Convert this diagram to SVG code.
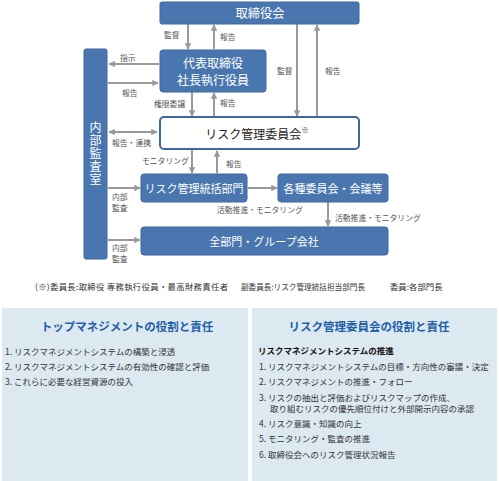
<svg xmlns="http://www.w3.org/2000/svg" width="499" height="481" viewBox="0 0 499 481">
<style>
.box{fill:#4a76b0;stroke:#3d67a0;stroke-width:1}
.wbox{fill:#fff;stroke:#3d67a0;stroke-width:2}
.bt{font-family:"Noto Sans CJK JP","Noto Sans",sans-serif;fill:#fff;font-size:12.3px;text-anchor:middle;dominant-baseline:central}
.sm{font-size:11px}
.lbl{font-family:"Noto Sans CJK JP","Noto Sans",sans-serif;fill:#555;font-size:7.8px;dominant-baseline:central}
.ln{stroke:#999;stroke-width:2;fill:none}
.ttl{font-family:"Noto Sans CJK JP","Noto Sans",sans-serif;fill:#1f5fa8;font-size:11.5px;font-weight:bold;text-anchor:middle;dominant-baseline:central}
.it{font-family:"Noto Sans CJK JP","Noto Sans",sans-serif;fill:#333;font-size:8.5px;dominant-baseline:central}
.fn{font-family:"Noto Sans CJK JP","Noto Sans",sans-serif;font-size:8.4px;fill:#333;dominant-baseline:central}
</style>
<defs>
<marker id="ah" viewBox="0 0 10 10" refX="9" refY="5" markerWidth="3.2" markerHeight="3.2" orient="auto-start-reverse" markerUnits="strokeWidth">
<path d="M0,0 L10,5 L0,10 z" fill="#999"/>
</marker>
</defs>
<g id="connectors">
<line class="ln" x1="188" y1="24" x2="188" y2="49" marker-end="url(#ah)"/>
<line class="ln" x1="214" y1="49" x2="214" y2="25" marker-end="url(#ah)"/>
<line class="ln" x1="297" y1="24" x2="297" y2="116" marker-end="url(#ah)"/>
<line class="ln" x1="317" y1="116" x2="317" y2="25" marker-end="url(#ah)"/>
<line class="ln" x1="159" y1="64" x2="109" y2="64" marker-end="url(#ah)"/>
<line class="ln" x1="108" y1="83" x2="158" y2="83" marker-end="url(#ah)"/>
<line class="ln" x1="192" y1="92" x2="192" y2="116" marker-end="url(#ah)"/>
<line class="ln" x1="214" y1="116" x2="214" y2="93" marker-end="url(#ah)"/>
<line class="ln" x1="109" y1="132" x2="157" y2="132" marker-start="url(#ah)" marker-end="url(#ah)"/>
<line class="ln" x1="192" y1="150" x2="192" y2="173" marker-end="url(#ah)"/>
<line class="ln" x1="217" y1="173" x2="217" y2="151" marker-end="url(#ah)"/>
<line class="ln" x1="108" y1="188" x2="140" y2="188" marker-end="url(#ah)"/>
<line class="ln" x1="248" y1="188" x2="277" y2="188" marker-end="url(#ah)"/>
<line class="ln" x1="328" y1="202" x2="328" y2="226" marker-end="url(#ah)"/>
<line class="ln" x1="108" y1="240" x2="140" y2="240" marker-end="url(#ah)"/>
<text class="lbl" x="164" y="34">監督</text>
<text class="lbl" x="220" y="36">報告</text>
<text class="lbl" x="277" y="70">監督</text>
<text class="lbl" x="325" y="70">報告</text>
<text class="lbl" x="120" y="57">指示</text>
<text class="lbl" x="122" y="92">報告</text>
<text class="lbl" x="154" y="103">権限委譲</text>
<text class="lbl" x="220" y="102">報告</text>
<text class="lbl" x="112" y="142">報告・連携</text>
<text class="lbl" x="142" y="160">モニタリング</text>
<text class="lbl" x="226" y="163">報告</text>
<text class="lbl" x="112" y="196">内部</text>
<text class="lbl" x="112" y="207">監査</text>
<text class="lbl" x="112" y="247">内部</text>
<text class="lbl" x="112" y="258">監査</text>
<text class="lbl" x="217" y="209">活動推進・モニタリング</text>
<text class="lbl" x="335" y="217">活動推進・モニタリング</text>
</g>
<g id="board">
<rect class="box" x="160" y="2" width="199" height="22" rx="2"/>
<text class="bt" x="260" y="13">取締役会</text>
</g>
<g id="ceo">
<rect class="box" x="160" y="50" width="106" height="42" rx="3"/>
<text class="bt" x="213" y="62.5" style="font-size:12px">代表取締役</text>
<text class="bt" x="213" y="79.5" style="font-size:12px">社長執行役員</text>
</g>
<g id="audit">
<rect class="box" x="84" y="49" width="23" height="210" rx="2"/>
<text class="bt" x="95.5" y="154" style="writing-mode:vertical-rl;font-size:12px;letter-spacing:1px">内部監査室</text>
</g>
<g id="riskcommittee">
<rect class="wbox" x="160" y="117" width="199" height="32" rx="4"/>
<text class="bt" x="257" y="133" style="fill:#222;font-size:12px">リスク管理委員会<tspan font-size="7.5" dy="-4">※</tspan></text>
</g>
<g id="riskdept">
<rect class="box" x="141" y="174" width="106" height="28" rx="3"/>
<text class="bt sm" x="194" y="188">リスク管理統括部門</text>
</g>
<g id="committees">
<rect class="box" x="278" y="174" width="110" height="28" rx="3"/>
<text class="bt sm" x="333" y="188">各種委員会・会議等</text>
</g>
<g id="alldepts">
<rect class="box" x="141" y="227" width="247" height="28" rx="3"/>
<text class="bt sm" x="264" y="241">全部門・グループ会社</text>
</g>
<g id="footnote">
<text class="fn" x="35" y="286" textLength="193" lengthAdjust="spacing">(※)委員長:取締役 専務執行役員・最高財務責任者</text>
<text class="fn" x="241" y="286" textLength="124" lengthAdjust="spacingAndGlyphs">副委員長:リスク管理統括担当部門長</text>
<text class="fn" x="390" y="286">委員:各部門長</text>
</g>
<g id="panel-left">
<rect x="2" y="308" width="246" height="173" fill="#dce9f1"/>
<text class="ttl" x="127" y="326">トップマネジメントの役割と責任</text>
<text class="it" x="5" y="351">1. リスクマネジメントシステムの構築と浸透</text>
<text class="it" x="5" y="366">2. リスクマネジメントシステムの有効性の確認と評価</text>
<text class="it" x="5" y="381">3. これらに必要な経営資源の投入</text>
</g>
<g id="panel-right">
<rect x="252" y="308" width="245" height="173" fill="#dce9f1"/>
<text class="ttl" x="369" y="326">リスク管理委員会の役割と責任</text>
<text class="it" x="258" y="350" style="font-weight:bold;fill:#111">リスクマネジメントシステムの推進</text>
<text class="it" x="259" y="366">1. リスクマネジメントシステムの目標・方向性の審議・決定</text>
<text class="it" x="259" y="381">2. リスクマネジメントの推進・フォロー</text>
<text class="it" x="259" y="397">3. リスクの抽出と評価およびリスクマップの作成、</text>
<text class="it" x="270" y="408">取り組むリスクの優先順位付けと外部開示内容の承認</text>
<text class="it" x="259" y="423">4. リスク意識・知識の向上</text>
<text class="it" x="259" y="438">5. モニタリング・監査の推進</text>
<text class="it" x="259" y="454">6. 取締役会へのリスク管理状況報告</text>
</g>
</svg>
